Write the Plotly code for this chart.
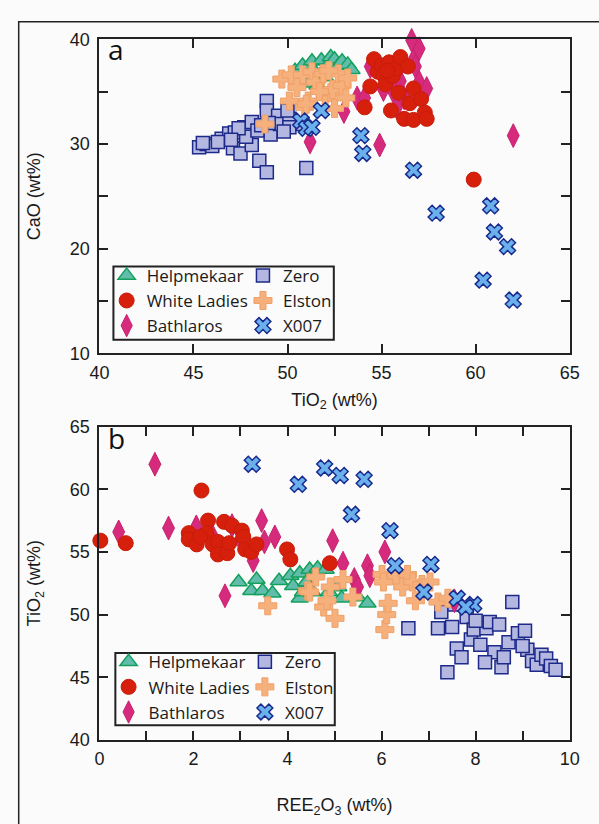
import plotly.graph_objects as go

W, H = 599, 824

# ---------------- Panel a: TiO2 (x) vs CaO (y), wt% ----------------
a_helpmekaar_tio2 = [50.4, 50.6, 50.8, 51.1, 51.3, 51.5, 51.8, 52.0, 52.3, 52.5, 52.7, 52.9, 53.2, 53.4, 52.0, 51.6]
a_helpmekaar_cao = [37.0, 36.2, 37.5, 35.8, 37.9, 36.8, 38.0, 37.2, 38.3, 38.1, 37.5, 37.9, 37.6, 37.1, 36.4, 35.6]

a_whiteladies_tio2 = [54.1, 54.4, 54.6, 54.8, 55.0, 55.1, 55.2, 55.4, 55.5, 55.6, 55.8, 55.9, 56.0, 56.2, 56.4,
                      56.5, 56.7, 56.7, 57.1, 57.3, 57.4, 59.9, 55.3]
a_whiteladies_cao = [33.5, 35.5, 38.1, 36.9, 37.5, 36.6, 35.7, 37.8, 33.2, 36.5, 37.2, 34.9, 38.3, 32.4, 37.4,
                     33.9, 35.3, 32.3, 34.3, 33.0, 32.4, 26.6, 37.0]

a_bathlaros_tio2 = [51.2, 53.0, 53.7, 54.1, 54.4, 54.9, 55.1, 55.6, 55.8, 56.2, 56.6, 56.7, 56.8, 57.0, 57.0,
                    57.4, 62.0, 56.0]
a_bathlaros_cao = [30.2, 33.1, 34.4, 34.4, 37.4, 29.9, 35.2, 35.1, 33.5, 34.4, 39.9, 38.0, 37.4, 39.1, 35.9,
                   35.3, 30.8, 36.0]

a_zero_tio2 = [45.3, 45.7, 46.0, 46.5, 46.9, 47.2, 47.1, 47.5, 47.7, 48.1, 48.1, 48.5, 48.9, 48.9, 48.9, 49.1,
               49.5, 49.6, 50.1, 50.1, 50.8, 51.0, 47.8, 46.3, 47.4, 48.4, 50.0, 49.0, 48.6, 47.0, 49.8, 45.5]
a_zero_cao = [29.7, 30.0, 29.8, 30.5, 31.0, 31.1, 29.6, 29.1, 31.6, 32.1, 29.9, 28.4, 34.1, 33.2, 27.3, 30.9,
              32.7, 31.9, 32.4, 31.6, 31.9, 27.7, 30.7, 30.2, 31.5, 31.3, 33.2, 32.0, 31.8, 30.4, 31.2, 30.1]

a_elston_tio2 = [48.8, 49.7, 50.2, 50.1, 50.8, 50.9, 51.1, 51.3, 51.5, 51.9, 52.0, 52.3, 52.4, 52.5, 52.7,
                 52.9, 53.1, 51.0, 52.2, 51.7, 53.2, 50.5]
a_elston_cao = [31.9, 36.2, 36.6, 34.1, 36.6, 33.5, 34.1, 36.9, 35.9, 36.7, 34.6, 34.9, 35.2, 33.4, 36.7,
                35.6, 34.4, 33.8, 37.0, 35.0, 36.3, 35.4]

a_x007_tio2 = [50.7, 51.0, 51.3, 51.8, 53.9, 54.0, 56.7, 57.9, 60.8, 61.0, 61.7, 60.4, 62.0]
a_x007_cao = [32.2, 31.5, 31.6, 33.2, 30.8, 29.1, 27.5, 23.4, 24.1, 21.6, 20.2, 17.0, 15.1]

# ---------------- Panel b: REE2O3 (x) vs TiO2 (y), wt% ----------------
b_helpmekaar_ree = [2.96, 3.23, 3.34, 3.47, 3.68, 3.82, 4.06, 4.12, 4.26, 4.26, 4.33, 4.47, 4.53, 4.64, 4.81,
                    4.88, 5.08, 5.15, 5.49, 5.70, 4.40]
b_helpmekaar_tio2 = [52.6, 51.9, 52.8, 51.9, 51.7, 52.7, 53.1, 52.3, 53.3, 51.3, 51.8, 53.6, 51.8, 53.7, 53.6,
                     51.8, 52.2, 51.3, 51.4, 50.9, 52.6]

b_whiteladies_ree = [0.02, 0.56, 2.17, 1.90, 1.90, 2.07, 2.31, 2.28, 2.41, 2.52, 2.52, 2.65, 2.72, 2.82, 2.76,
                     3.03, 3.06, 3.10, 3.23, 3.34, 3.99, 4.06, 4.90, 2.14]
b_whiteladies_tio2 = [55.9, 55.7, 59.9, 56.5, 56.0, 55.6, 57.5, 56.5, 55.6, 55.8, 54.8, 57.4, 54.9, 57.1, 55.7,
                      56.7, 56.2, 55.2, 55.0, 55.6, 55.2, 54.4, 54.1, 56.2]

b_bathlaros_ree = [0.41, 1.18, 1.47, 2.06, 2.40, 2.67, 2.82, 3.00, 3.27, 3.45, 3.51, 3.73, 4.96, 5.18, 5.42,
                   5.49, 5.70, 5.75, 6.07, 7.55]
b_bathlaros_tio2 = [56.6, 62.0, 56.9, 57.0, 56.3, 51.5, 57.1, 56.0, 54.3, 57.5, 55.8, 56.2, 55.9, 54.1, 52.8,
                    52.2, 53.9, 53.1, 55.0, 51.1]

b_zero_ree = [6.57, 7.20, 7.27, 7.40, 7.55, 7.60, 7.70, 7.81, 7.90, 7.96, 8.10, 8.23, 8.30, 8.40, 8.50, 8.55,
              8.60, 8.70, 8.78, 8.90, 9.05, 9.10, 9.20, 9.30, 9.40, 9.50, 9.60, 9.70, 8.00, 7.50, 8.20, 9.00]
b_zero_tio2 = [48.9, 48.9, 50.2, 45.4, 50.8, 47.3, 46.6, 49.8, 48.0, 48.8, 47.6, 48.9, 49.4, 47.0, 49.2, 45.8,
               46.6, 47.8, 51.0, 48.5, 48.7, 47.2, 46.3, 46.0, 46.8, 46.5, 45.9, 45.6, 49.5, 49.0, 46.2, 47.5]

b_elston_ree = [3.58, 4.43, 4.47, 4.60, 4.77, 4.84, 4.91, 5.01, 5.18, 5.39, 6.01, 6.04, 6.07, 6.11, 6.14,
                6.31, 6.45, 6.55, 6.66, 6.72, 6.86, 7.03, 7.20, 7.41]
b_elston_tio2 = [50.7, 51.9, 51.8, 53.0, 50.6, 51.1, 52.2, 49.7, 52.8, 51.4, 53.2, 52.6, 48.8, 50.0, 50.9,
                 53.1, 52.2, 53.2, 52.6, 51.1, 52.4, 52.6, 51.0, 51.3]

b_x007_ree = [3.25, 4.23, 4.79, 5.12, 5.63, 5.36, 6.18, 6.29, 7.05, 6.90, 7.61, 7.96, 7.79]
b_x007_tio2 = [62.0, 60.4, 61.7, 61.1, 60.8, 58.0, 56.7, 53.9, 54.0, 51.8, 51.3, 50.8, 50.6]

# tick values (labelled major ticks and unlabelled minor ticks)
a_xticks = [40, 45, 50, 55, 60, 65]
a_yticks = [10, 20, 30, 40]
a_yminor = [15, 25, 35]
b_xticks = [0, 2, 4, 6, 8, 10]
b_xminor = [1, 3, 5, 7, 9]
b_yticks = [40, 45, 50, 55, 60, 65]


def px(x):
    return x / W


def py(y):
    return 1 - y / H


# marker styling per locality
styles = {
    "Zero": dict(symbol="square", size=13, color="#b4b8e0", line=dict(color="#1d2a8a", width=1.5)),
    "Helpmekaar": dict(symbol="triangle-up", size=15, color="#62bcac", line=dict(color="#14a05c", width=1.5)),
    "Bathlaros": dict(symbol="diamond-tall", size=17, color="#d62a7c", line=dict(color="#c8226f", width=1)),
    "White Ladies": dict(symbol="circle", size=15, color="#d6200c", line=dict(color="#c81c0a", width=1)),
    "Elston": dict(symbol="cross", size=15, color="#f5b07c", line=dict(color="#f0a068", width=1)),
    "X007": dict(symbol="x", size=14, color="#6ab0ec", line=dict(color="#1a2a8c", width=1.5)),
}
col1 = ["Helpmekaar", "White Ladies", "Bathlaros"]
rank = {"Helpmekaar": 1, "White Ladies": 2, "Bathlaros": 3, "Zero": 1, "Elston": 2, "X007": 3}

panel_a = {
    "Zero": (a_zero_tio2, a_zero_cao),
    "Helpmekaar": (a_helpmekaar_tio2, a_helpmekaar_cao),
    "Bathlaros": (a_bathlaros_tio2, a_bathlaros_cao),
    "White Ladies": (a_whiteladies_tio2, a_whiteladies_cao),
    "Elston": (a_elston_tio2, a_elston_cao),
    "X007": (a_x007_tio2, a_x007_cao),
}
panel_b = {
    "Zero": (b_zero_ree, b_zero_tio2),
    "Helpmekaar": (b_helpmekaar_ree, b_helpmekaar_tio2),
    "Bathlaros": (b_bathlaros_ree, b_bathlaros_tio2),
    "White Ladies": (b_whiteladies_ree, b_whiteladies_tio2),
    "Elston": (b_elston_ree, b_elston_tio2),
    "X007": (b_x007_ree, b_x007_tio2),
}

fig = go.Figure()
for name, (xs, ys) in panel_a.items():
    fig.add_trace(go.Scatter(
        x=xs, y=ys, mode="markers", name=name, marker=styles[name], cliponaxis=False,
        xaxis="x", yaxis="y", legend="legend" if name in col1 else "legend2", legendrank=rank[name]))
for name, (xs, ys) in panel_b.items():
    fig.add_trace(go.Scatter(
        x=xs, y=ys, mode="markers", name=name, marker=styles[name], cliponaxis=False,
        xaxis="x2", yaxis="y2", legend="legend3" if name in col1 else "legend4", legendrank=rank[name]))

INK = "#222222"
TICK_FONT = dict(family="Liberation Sans, Arial, sans-serif", size=18, color="#1a1a1a")
TITLE_FONT = dict(family="Liberation Sans, Arial, sans-serif", size=18, color="#1a1a1a")
axis_common = dict(showline=True, linecolor=INK, linewidth=2, mirror="ticks", ticks="inside",
                   ticklen=9, tickwidth=2, tickcolor=INK, showgrid=False, zeroline=False,
                   tickfont=TICK_FONT, tickmode="array")


def minor(vals):
    return dict(tickmode="array", tickvals=vals, ticks="inside", ticklen=9, tickwidth=2,
                tickcolor=INK, showgrid=False)


def title(text, standoff):
    return dict(text=text, font=TITLE_FONT, standoff=standoff)


xdom = [px(92.5), px(579)]
fig.update_layout(
    width=W, height=H, margin=dict(l=0, r=0, t=0, b=0),
    paper_bgcolor="#fbfbfb", plot_bgcolor="#fbfbfb",
    xaxis=dict(domain=xdom, range=[40, 65], anchor="y", tickvals=a_xticks,
               ticklabelstandoff=2, title=title("TiO<sub>2</sub> (wt%)", 11), **axis_common),
    yaxis=dict(domain=[py(352), py(30)], range=[10, 40], anchor="x", tickvals=a_yticks,
               minor=minor(a_yminor), ticklabelstandoff=4, title=title("CaO (wt%)", 24),
               **axis_common),
    xaxis2=dict(domain=xdom, range=[0, 10], anchor="y2", tickvals=b_xticks,
                minor=minor(b_xminor), ticklabelstandoff=2,
                title=title("REE<sub>2</sub>O<sub>3</sub> (wt%)", 30), **axis_common),
    yaxis2=dict(domain=[py(748), py(427)], range=[40, 65], anchor="x2", tickvals=b_yticks,
                ticklabelstandoff=4, title=title("TiO<sub>2</sub> (wt%)", 24), **axis_common),
    showlegend=True,
)

LEG_FONT = dict(family="Open Sans, sans-serif", size=17, color="#1a1a1a")
leg_common = dict(bgcolor="rgba(0,0,0,0)", borderwidth=0, font=LEG_FONT, itemwidth=30,
                  xanchor="left", yanchor="top", tracegroupgap=0, itemsizing="trace")
fig.update_layout(
    legend=dict(x=px(100), y=py(254), **leg_common),
    legend2=dict(x=px(241), y=py(254), **leg_common),
    legend3=dict(x=px(102), y=py(650), **leg_common),
    legend4=dict(x=px(243), y=py(650), **leg_common),
)

shapes = [
    # outer frame
    dict(type="rect", xref="paper", yref="paper", x0=px(9), x1=1.05, y0=-0.05, y1=py(12),
         line=dict(color=INK, width=1.5), fillcolor="rgba(0,0,0,0)", layer="below"),
    # legend boxes
    dict(type="rect", xref="paper", yref="paper", x0=px(107), x1=px(335), y0=py(338), y1=py(263),
         line=dict(color=INK, width=2), fillcolor="rgba(0,0,0,0)"),
    dict(type="rect", xref="paper", yref="paper", x0=px(109), x1=px(336), y0=py(733), y1=py(659),
         line=dict(color=INK, width=2), fillcolor="rgba(0,0,0,0)"),
]
fig.update_layout(shapes=shapes)

ann = [
    dict(text="a", x=px(110), y=py(40), font=dict(family="Open Sans, sans-serif", size=28, color="#111")),
    dict(text="b", x=px(110), y=py(439), font=dict(family="Open Sans, sans-serif", size=28, color="#111")),
]
for a in ann:
    a.update(xref="paper", yref="paper", showarrow=False, xanchor="center", yanchor="middle")
fig.update_layout(annotations=ann)

fig.write_html("out.html")
